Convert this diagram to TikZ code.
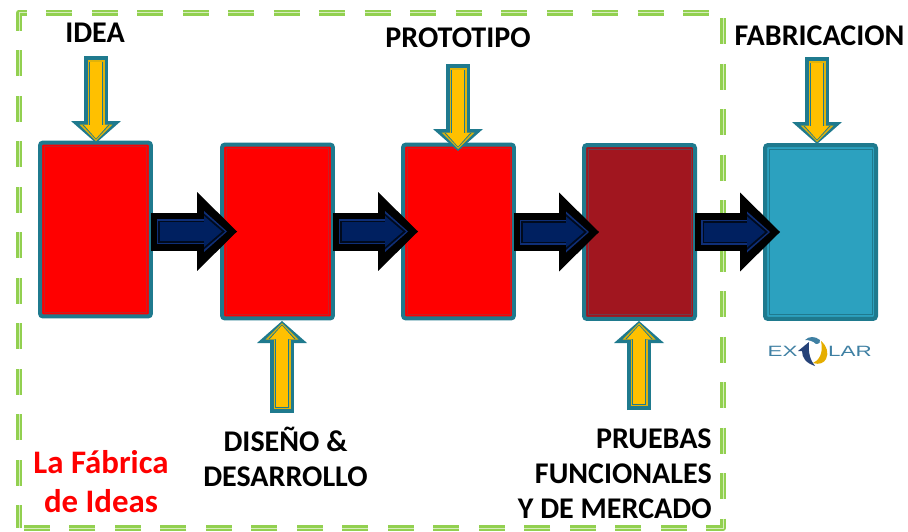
\documentclass[tikz,border=0pt]{standalone}
\usepackage{fontspec}
\setmainfont{Carlito}
\newfontfamily\logofont[FakeStretch=1.5]{Liberation Sans}
\usetikzlibrary{arrows.meta}

\definecolor{frameline}{HTML}{92D050}
\definecolor{framelight}{HTML}{D6EDBE}
\definecolor{tealedge}{HTML}{1F7A8E}
\definecolor{boxbrick}{HTML}{A1161F}
\definecolor{boxcyan}{HTML}{2CA1BF}
\definecolor{arrownavy}{HTML}{002060}
\definecolor{arrowblue}{HTML}{0F2F78}
\definecolor{arrowgold}{HTML}{FFC000}
\definecolor{arrowdim}{HTML}{E0B30A}
\definecolor{logotext}{HTML}{3F80A3}

\tikzset{
  stepbox/.style={draw=tealedge,line width=.08cm,rounded corners=.06cm,
    minimum width=2.22cm,minimum height=3.48cm,inner sep=0pt},
  layer/.style n args={6}{draw=#1,line width=#2,
    -{Triangle[length=#3,width=#4,line width=0pt]},
    shorten >=#5,shorten <=#6},
  title/.style={font=\bfseries\fontsize{17.1}{20}\selectfont,text=black,inner sep=0pt}
}

\newcommand{\flowarrow}[2]{
  \draw[layer={black}{.76cm}{.8cm}{1.58cm}{-.34cm}{-.04cm}] (#1) -- (#2);
  \draw[layer={arrowblue}{.5cm}{.46cm}{.82cm}{-.14cm}{.08cm}] (#1) -- (#2);
  \draw[layer={black!70!arrownavy}{.44cm}{.42cm}{.72cm}{-.1cm}{.11cm}] (#1) -- (#2);
  \draw[layer={arrownavy}{.38cm}{.36cm}{.62cm}{-.04cm}{.14cm}] (#1) -- (#2);
}
\newcommand{\feedarrow}[2]{
  \draw[layer={tealedge}{.48cm}{.44cm}{1cm}{0cm}{0cm}] (#1) -- (#2);
  \draw[layer={arrowdim}{.34cm}{.33cm}{.66cm}{.04cm}{.08cm}] (#1) -- (#2);
  \draw[layer={tealedge}{.27cm}{.29cm}{.54cm}{.07cm}{.11cm}] (#1) -- (#2);
  \draw[layer={arrowgold}{.24cm}{.27cm}{.48cm}{.09cm}{.125cm}] (#1) -- (#2);
}

\begin{document}
\begin{tikzpicture}[x=.02cm,y=-.02cm]
  \useasboundingbox (0,0) rectangle (908,531);

  % dashed frame
  \coordinate (fsw) at (19,528);
  \coordinate (fnw) at (19,12.5);
  \coordinate (fne) at (723,12.5);
  \coordinate (fse) at (723,528);
  \draw[frameline,line width=.12cm,line join=round,dash pattern=on .52cm off .39cm,dash phase=.06cm]
    (fsw) -- (fnw) -- (fne) -- (fse) -- cycle;
  \draw[framelight,line width=.02cm,dash pattern=on .52cm off .39cm,dash phase=.06cm]
    (fsw) -- (fnw) -- (fne) -- (fse) -- cycle;

  % boxes
  \node[stepbox,fill=red] (idea) at (95.5,229.5) {};
  \node[stepbox,fill=red] (diseno) at (277.5,231.5) {};
  \node[stepbox,fill=red] (prototipo) at (458.5,231.5) {};
  \node[stepbox,fill=boxbrick] (pruebas) at (639.5,232) {};
  \node[stepbox,fill=boxcyan] (fabrica) at (820.5,232) {};

  \foreach \n/\c in {idea/red!75!tealedge,diseno/red!75!tealedge,prototipo/red!75!tealedge,
                     pruebas/boxbrick!60!tealedge,fabrica/tealedge} {
    \draw[\c,line width=.02cm]
      ([shift={(.12cm,-.12cm)}]\n.north west) rectangle ([shift={(-.12cm,.12cm)}]\n.south east);
  }

  % arrows between the boxes
  \foreach \a/\b in {idea/diseno,diseno/prototipo,prototipo/pruebas,pruebas/fabrica} {
    \flowarrow{\a.east |- \b.west}{\b.west}
  }

  % arrows coming in
  \coordinate (ideatail) at (96,56);
  \coordinate (ideahead) at (96,143);
  \coordinate (prototail) at (458,64);
  \coordinate (protohead) at (458,151);
  \coordinate (fabtail) at (817,57);
  \coordinate (fabhead) at (817,144);
  \coordinate (disenotail) at (282,413);
  \coordinate (disenohead) at (282,321);
  \coordinate (pruebastail) at (639,410);
  \coordinate (pruebashead) at (639,321);
  \foreach \t in {idea,proto,fab,diseno,pruebas} {
    \feedarrow{\t tail}{\t head}
  }

  % labels
  \node[title] (tidea) at (95,33) {IDEA};
  \node[title] (tproto) at (458,38) {PROTOTIPO};
  \node[title] (tfab) at (819.5,36) {FABRICACION};
  \node[title,align=center] (tdiseno) at (285.5,457) {DISEÑO \&\\DESARROLLO};
  \node[title,align=right,anchor=east] (tpruebas) at (712,474) {PRUEBAS\\FUNCIONALES\\Y DE MERCADO};
  \node[font=\bfseries\fontsize{18.7}{22.3}\selectfont,text=red,align=center,inner sep=0pt] (tfabrica) at (101,481.5) {La Fábrica\\de Ideas};

  % logo
  \node[font=\logofont\fontsize{8.5}{10}\selectfont,text=logotext,inner sep=0pt] (logoex) at (782.5,351.5) {EX};
  \node[font=\logofont\fontsize{8.5}{10}\selectfont,text=logotext,inner sep=0pt] (logolar) at (850,351.5) {LAR};
  \fill[arrownavy!85!white] (809,342) -- (798,351) -- (802,351) .. controls (802,358) and (806,363) .. (815,366)
    .. controls (810,360) and (808,352) .. (809,342) -- cycle;
  \fill[arrowgold!90!black] (821,341) .. controls (827,346) and (829,353) .. (826,359)
    .. controls (824,363) and (819,365) .. (813,363) .. controls (818,361) and (824,354) .. (821,341) -- cycle;
  \fill[logotext] (805,340) .. controls (809,336) and (815,336) .. (820,340)
    .. controls (821,342) and (819,344) .. (816,344) .. controls (813,341) and (809,340) .. (805,340) -- cycle;
\end{tikzpicture}
\end{document}
